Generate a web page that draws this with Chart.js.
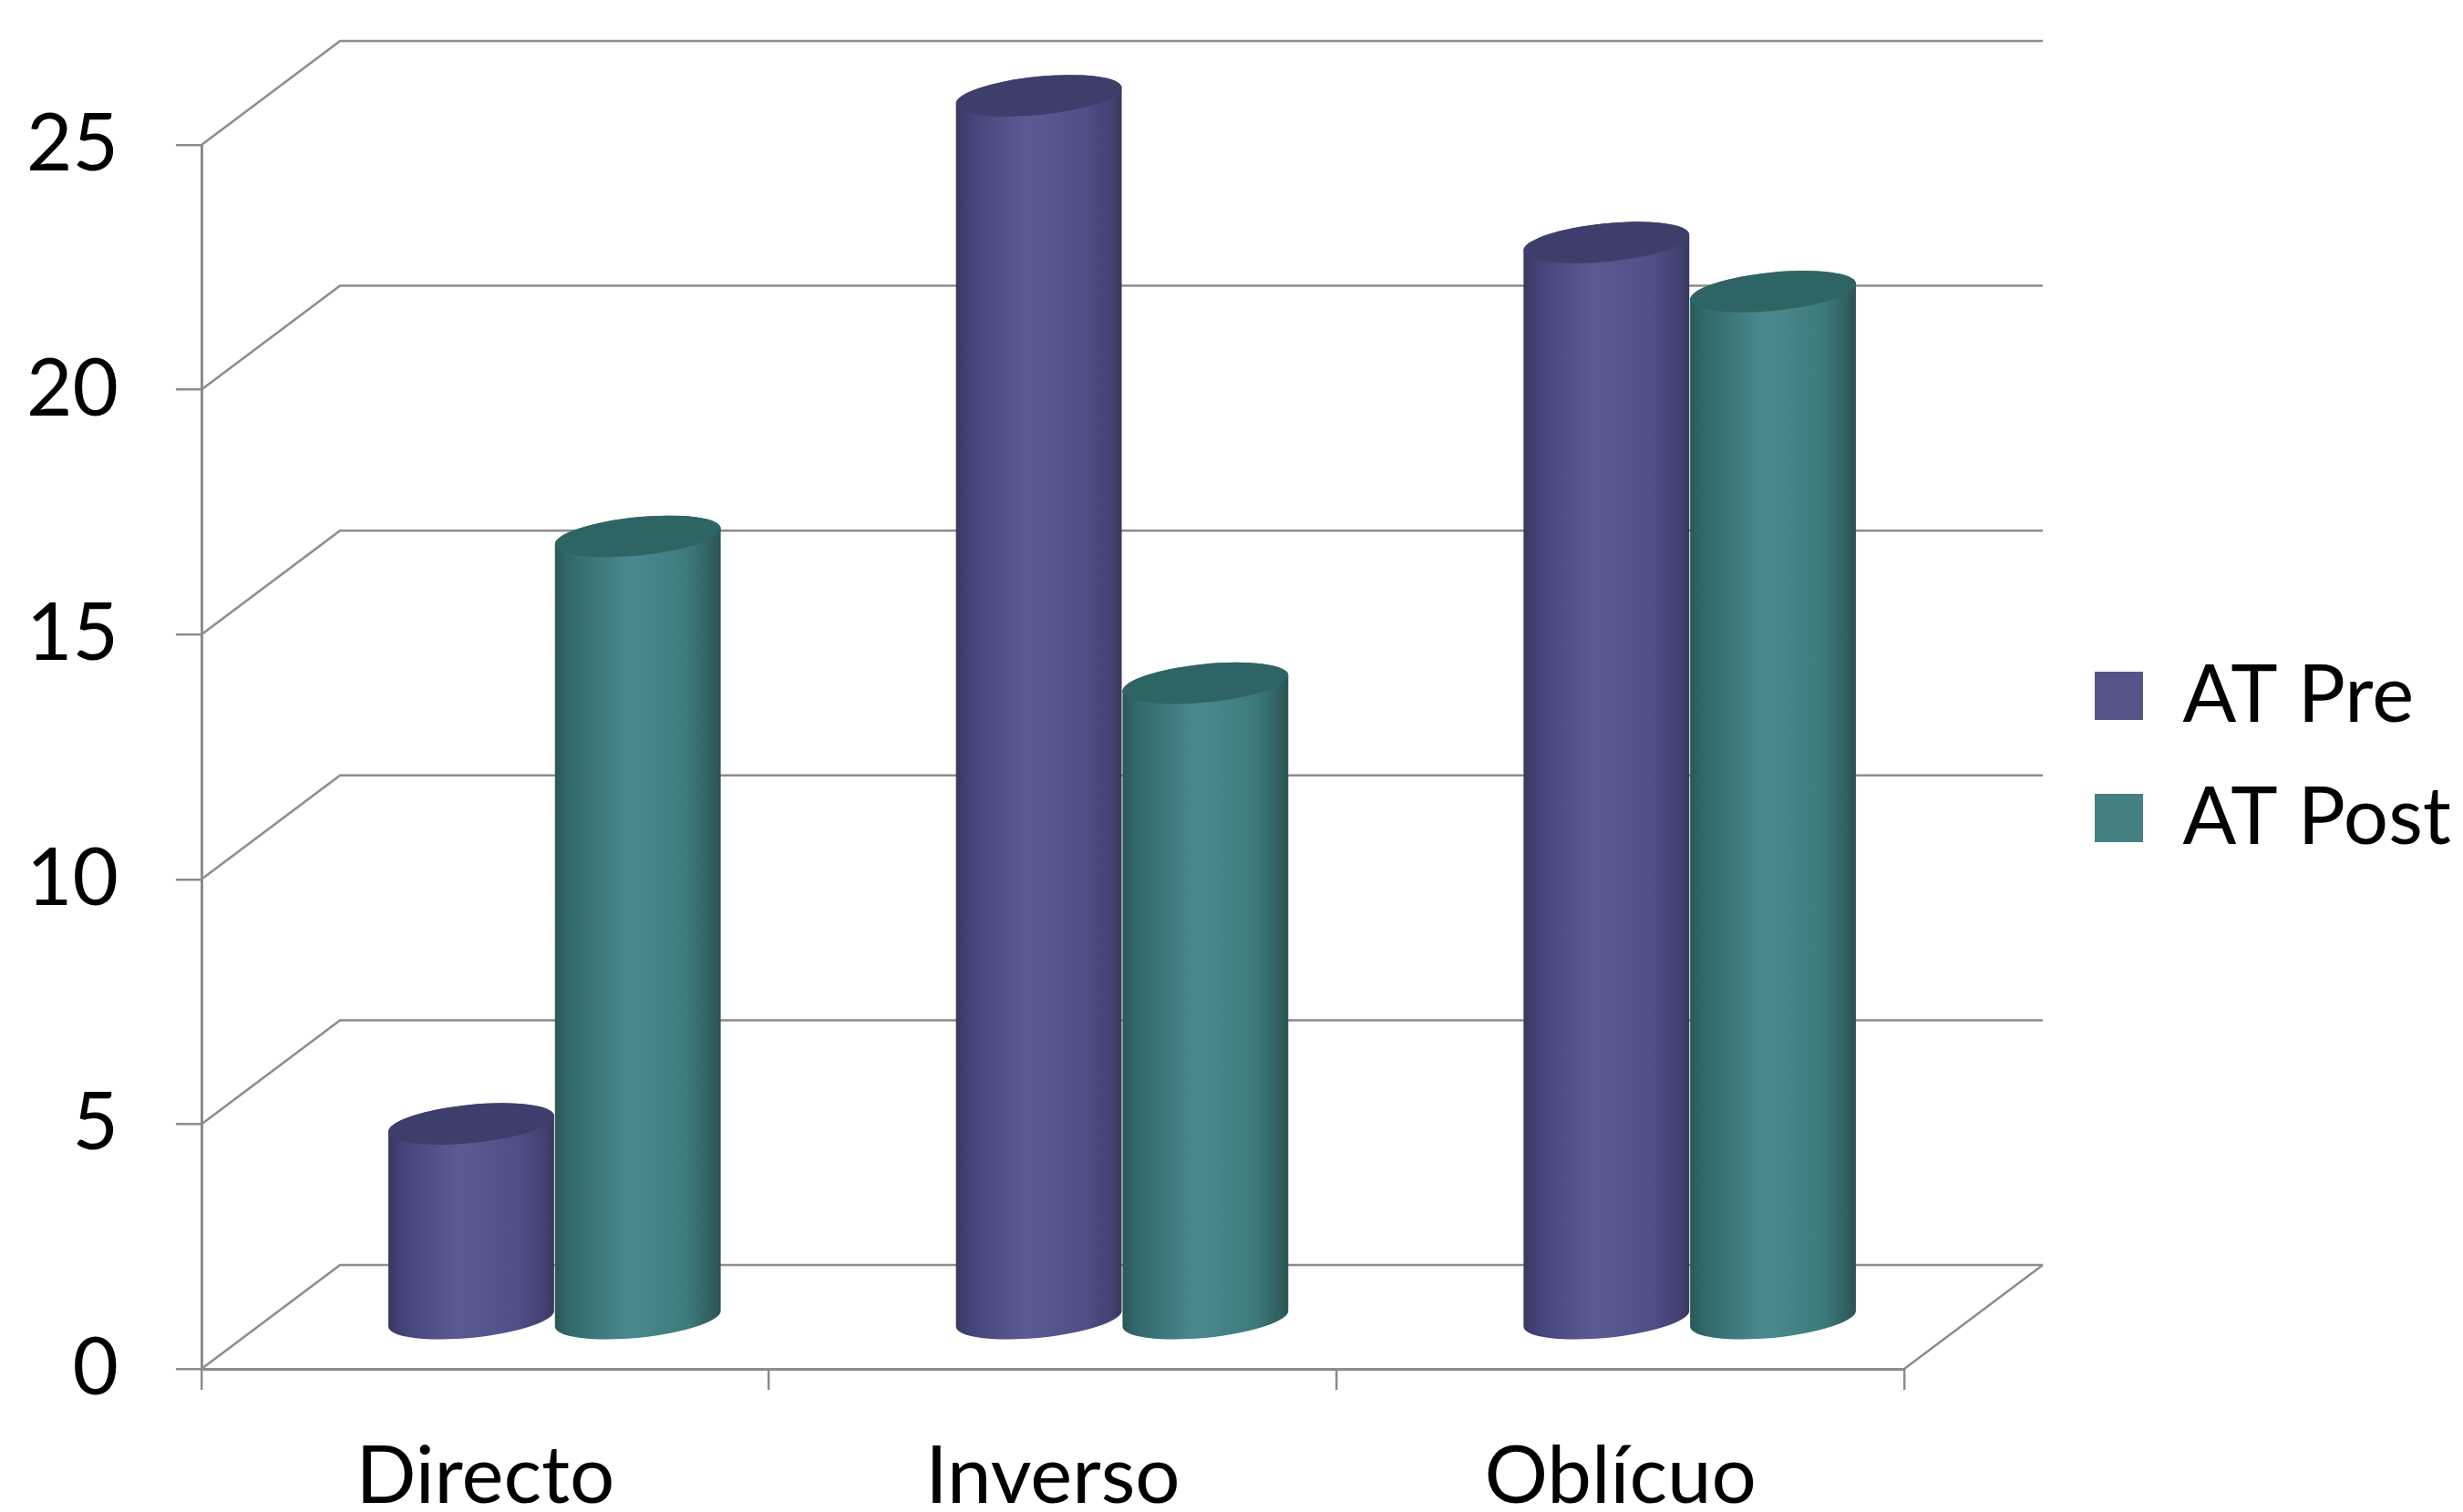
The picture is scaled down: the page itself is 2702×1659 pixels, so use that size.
<!DOCTYPE html>
<html>
<head>
<meta charset="utf-8">
<script src="https://cdn.jsdelivr.net/npm/chart.js@4"></script>
<style>
  html, body { margin: 0; padding: 0; background: #fff; }
  #wrap { width: 2702px; height: 1659px; }
</style>
</head>
<body>
<div id="wrap"><canvas id="chart" width="2702" height="1659"></canvas></div>
<script>
const categories = ['Directo', 'Inverso', 'Oblícuo'];
const seriesNames = ['AT Pre', 'AT Post'];
const atPre = [4, 25, 22];
const atPost = [16, 13, 21];
const yTicks = [0, 5, 10, 15, 20, 25];

const FONT = 'Lato';
const FONT_SIZE = 87;
const GRID = '#8c8c8c';
// depth of the 3D box (back wall offset) and where the cylinders stand
const DEPTH_X = 152;
const DEPTH_Y = -114;
const CYL_X = 76;
const CYL_Y = -54;
const PAD_RIGHT = 3;

const palettes = [
  { legend: '#545489', top: '#3e3e6c', stops: [[0, '#393860'], [0.1, '#45447a'], [0.42, '#5b5a93'], [0.78, '#4f4e86'], [0.93, '#434272'], [1, '#393860']] },
  { legend: '#458083', top: '#2f6465', stops: [[0, '#2b5859'], [0.1, '#336a6b'], [0.45, '#4a8a8e'], [0.8, '#3d7a7c'], [0.94, '#30605f'], [1, '#2a5354']] },
];

const boxPlugin = {
  id: 'box3d',
  beforeDatasetsDraw(chart) {
    const { ctx, chartArea: { left, right }, scales: { y } } = chart;
    ctx.save();
    ctx.strokeStyle = GRID;
    ctx.lineWidth = 2.5;
    yTicks.forEach((v) => {
      const py = y.getPixelForValue(v);
      ctx.beginPath();
      ctx.moveTo(left, py);
      ctx.lineTo(left + DEPTH_X, py + DEPTH_Y);
      ctx.lineTo(right + DEPTH_X, py + DEPTH_Y);
      ctx.stroke();
    });
    const py0 = y.getPixelForValue(0);
    ctx.beginPath();
    ctx.moveTo(right, py0);
    ctx.lineTo(right + DEPTH_X, py0 + DEPTH_Y);
    ctx.stroke();
    ctx.restore();

    chart.data.datasets.forEach((ds, i) => {
      const meta = chart.getDatasetMeta(i);
      if (!meta.visible) return;
      meta.data.forEach((bar) => drawCylinder(ctx, bar, palettes[i]));
    });
    return false;
  }
};

const drawCylinder = (ctx, bar, pal) => {
  const { x, y, base, width } = bar.getProps(['x', 'y', 'base', 'width'], true);
  const cx = x + CYL_X;
  const yt = y + CYL_Y;
  const yb = base + CYL_Y;
  const rx = width / 2;
  const ry = 21;
  const rot = -0.1;

  const grad = ctx.createLinearGradient(cx - rx, 0, cx + rx, 0);
  pal.stops.forEach(([o, c]) => grad.addColorStop(o, c));

  ctx.save();
  ctx.beginPath();
  ctx.ellipse(cx, yb, rx, ry, rot, Math.PI, 0, true);
  ctx.ellipse(cx, yt, rx, ry, rot, 0, Math.PI, true);
  ctx.closePath();
  ctx.fillStyle = grad;
  ctx.fill();

  ctx.beginPath();
  ctx.ellipse(cx, yt, rx, ry, rot, 0, Math.PI * 2);
  ctx.fillStyle = pal.top;
  ctx.fill();
  ctx.restore();
};

const legendWidth = (chart) => {
  const ctx = chart.ctx;
  ctx.save();
  ctx.font = `${FONT_SIZE}px ${FONT}`;
  const tw = Math.max(...seriesNames.map((s) => ctx.measureText(s).width));
  ctx.restore();
  return 47 + 53 + FONT_SIZE / 2 + tw;
};

const start = () => {
  new Chart(document.getElementById('chart'), {
    type: 'bar',
    data: {
      labels: categories,
      datasets: [
        { label: seriesNames[0], data: atPre, backgroundColor: palettes[0].legend },
        { label: seriesNames[1], data: atPost, backgroundColor: palettes[1].legend },
      ]
    },
    plugins: [boxPlugin],
    options: {
      responsive: false,
      animation: false,
      events: [],
      layout: { padding: { top: 159, right: PAD_RIGHT, bottom: 0, left: 0 } },
      datasets: { bar: { barPercentage: 1, categoryPercentage: 0.587 } },
      font: { family: FONT, size: FONT_SIZE },
      plugins: {
        tooltip: { enabled: false },
        legend: {
          position: 'right',
          fullSize: false,
          labels: {
            boxWidth: 53,
            boxHeight: 53,
            padding: 47,
            color: '#000',
            font: { family: FONT, size: FONT_SIZE },
          }
        }
      },
      scales: {
        x: {
          grid: { display: true, drawOnChartArea: false, drawTicks: true, tickLength: 23, color: GRID, lineWidth: 2.5 },
          border: { display: true, color: GRID, width: 3 },
          ticks: { color: '#000', padding: 44, font: { family: FONT, size: FONT_SIZE } },
          afterFit: (s) => { s.height = 157; },
        },
        y: {
          min: 0,
          max: 25,
          afterBuildTicks: (s) => { s.ticks = yTicks.map((v) => ({ value: v })); },
          grid: { display: true, drawOnChartArea: false, drawTicks: true, tickLength: 28, color: GRID, lineWidth: 2.5 },
          border: { display: true, color: GRID, width: 3 },
          ticks: { color: '#000', padding: 63, font: { family: FONT, size: FONT_SIZE } },
          afterFit: (s) => { s.width = 221; },
        },
        gap: {
          type: 'linear',
          position: 'right',
          display: true,
          grid: { display: false },
          border: { display: false },
          ticks: { display: false },
          afterFit: (s) => { s.width = 2702 - PAD_RIGHT - legendWidth(s.chart) - 2087 - 12; },
        }
      }
    }
  });
};

document.fonts.load(`${FONT_SIZE}px ${FONT}`).then(start, start);
</script>
</body>
</html>
